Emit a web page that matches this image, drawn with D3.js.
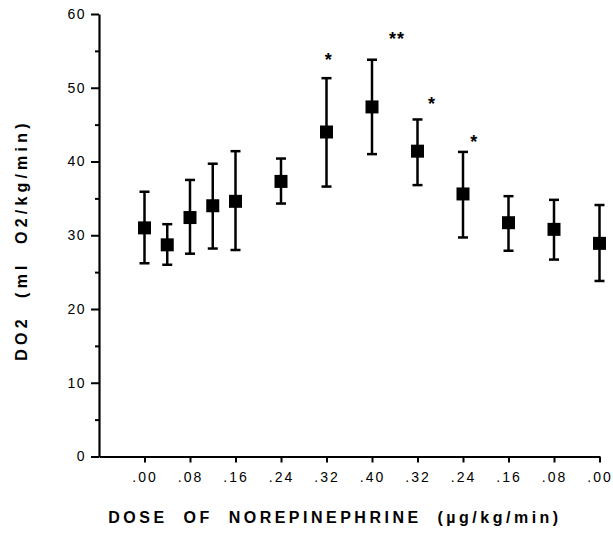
<!DOCTYPE html>
<html lang="en">
<head>
  <meta charset="utf-8">
  <title>DO2 vs norepinephrine dose</title>
  <script src="https://d3js.org/d3.v7.min.js"></script>
  <style>
    body { margin: 0; background: #fff; }
    text { font-family: "Liberation Sans", Arial, sans-serif; fill: #000; }
  </style>
</head>
<body>
<div id="my_dataviz"></div>
<script>
// step position along the x axis (dose goes up to .40 then back down)
const steps = [0, 0.5, 1, 1.5, 2, 3, 4, 5, 6, 7, 8, 9, 10];
const doses = [".00", ".04", ".08", ".12", ".16", ".24", ".32", ".40", ".32", ".24", ".16", ".08", ".00"];
const meanDO2 = [31.0, 28.7, 32.4, 34.0, 34.6, 37.3, 44.0, 47.4, 41.4, 35.6, 31.7, 30.8, 28.9];
const upperDO2 = [35.9, 31.5, 37.5, 39.7, 41.4, 40.4, 51.3, 53.8, 45.7, 41.3, 35.3, 34.8, 34.1];
const lowerDO2 = [26.2, 26.0, 27.5, 28.2, 28.0, 34.3, 36.6, 41.0, 36.8, 29.7, 27.9, 26.7, 23.8];

const tickSteps = [0, 1, 2, 3, 4, 5, 6, 7, 8, 9, 10];
const tickLabels = [".00", ".08", ".16", ".24", ".32", ".40", ".32", ".24", ".16", ".08", ".00"];
const yMajor = [0, 10, 20, 30, 40, 50, 60];
const yMinor = [5, 15, 25, 35, 45, 55];

// significance marks
const starText = ["*", "**", "*", "*"];
const starStep = [4.05, 5.55, 6.32, 7.25];
const starValue = [54.2, 57.0, 48.2, 43.1];

const width = 613, height = 547;

const svg = d3.select("#my_dataviz")
  .append("svg")
    .attr("width", width)
    .attr("height", height);

const x = d3.scaleLinear().domain([-1, 10]).range([99, 599.5]);
const y = d3.scaleLinear().domain([0, 60]).range([456.5, 14]);

// Y axis, minor ticks first then major with labels
svg.append("g")
  .attr("transform", `translate(${x(-1)},0)`)
  .call(d3.axisLeft(y).tickValues(yMinor).tickSize(4).tickFormat(""))
  .call(g => g.select(".domain").remove())
  .selectAll("line").attr("stroke-width", 2);

const yAxis = svg.append("g")
  .attr("transform", `translate(${x(-1)},0)`)
  .call(d3.axisLeft(y).tickValues(yMajor).tickSize(8).tickSizeOuter(0).tickPadding(5));
yAxis.select(".domain").attr("stroke-width", 2.2);
yAxis.selectAll("line").attr("stroke-width", 2);
yAxis.selectAll("text")
  .attr("font-size", 14)
  .attr("letter-spacing", 1.5)
  .attr("font-family", "Liberation Sans, Arial, sans-serif");

// X axis
const xAxis = svg.append("g")
  .attr("transform", `translate(0,${y(0)})`)
  .call(d3.axisBottom(x).tickValues(tickSteps).tickSize(6).tickSizeOuter(0).tickPadding(10)
    .tickFormat((d, i) => tickLabels[i]));
xAxis.select(".domain").attr("stroke-width", 2.2);
xAxis.selectAll("line").attr("stroke-width", 2);
xAxis.selectAll("text")
  .attr("font-size", 14)
  .attr("letter-spacing", 2)
  .attr("font-family", "Liberation Sans, Arial, sans-serif");

// error bars
const bars = svg.append("g");
steps.forEach((s, i) => {
  bars.append("line")
    .attr("x1", x(s)).attr("x2", x(s))
    .attr("y1", y(upperDO2[i])).attr("y2", y(lowerDO2[i]))
    .attr("stroke", "#000").attr("stroke-width", 2.5);
  [upperDO2[i], lowerDO2[i]].forEach(v => {
    bars.append("line")
      .attr("x1", x(s) - 5).attr("x2", x(s) + 5)
      .attr("y1", y(v)).attr("y2", y(v))
      .attr("stroke", "#000").attr("stroke-width", 2.5);
  });
});

// means
svg.append("g").selectAll("rect")
  .data(steps)
  .join("rect")
    .attr("x", d => x(d) - 6.5)
    .attr("y", (d, i) => y(meanDO2[i]) - 6.5)
    .attr("width", 13)
    .attr("height", 13)
    .attr("fill", "#000");

// stars
svg.append("g").selectAll("text")
  .data(starText)
  .join("text")
    .attr("x", (d, i) => x(starStep[i]))
    .attr("y", (d, i) => y(starValue[i]) + 9)
    .attr("text-anchor", "middle")
    .attr("font-size", 18)
    .attr("font-weight", "bold")
    .attr("letter-spacing", 1)
    .text(d => d);

// axis titles
svg.append("text")
  .attr("transform", "translate(27,240) rotate(-90)")
  .attr("text-anchor", "middle")
  .attr("font-size", 16)
  .attr("font-weight", "bold")
  .attr("letter-spacing", 4.2)
  .attr("xml:space", "preserve")
  .text("DO2  (ml  O2/kg/min)");

svg.append("text")
  .attr("x", 335)
  .attr("y", 523)
  .attr("text-anchor", "middle")
  .attr("font-size", 16)
  .attr("font-weight", "bold")
  .attr("letter-spacing", 3.5)
  .attr("xml:space", "preserve")
  .text("DOSE  OF  NOREPINEPHRINE  (\u00b5g/kg/min)");
</script>
</body>
</html>
